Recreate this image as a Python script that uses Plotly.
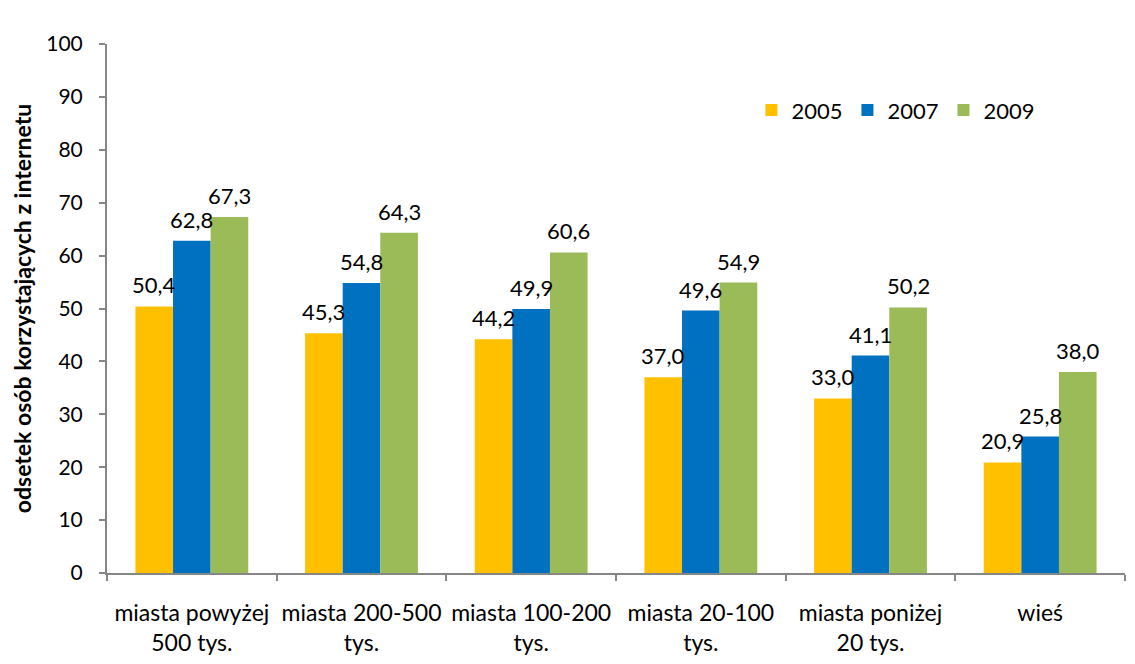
import plotly.graph_objects as go

categories = ["miasta powyżej<br>500 tys.", "miasta 200-500<br>tys.", "miasta 100-200<br>tys.",
              "miasta 20-100<br>tys.", "miasta poniżej<br>20 tys.", "wieś"]
series_names = ["2005", "2007", "2009"]
v2005 = [50.4, 45.3, 44.2, 37.0, 33.0, 20.9]
v2007 = [62.8, 54.8, 49.9, 49.6, 41.1, 25.8]
v2009 = [67.3, 64.3, 60.6, 54.9, 50.2, 38.0]
colors = ["#FFC000", "#0070C0", "#9BBB59"]
y_ticks = [0, 10, 20, 30, 40, 50, 60, 70, 80, 90, 100]

FONT = "Lato, 'Open Sans', sans-serif"
BARGAP = 0.335
PLOT_W = 1127 - 99 - 10
bar_px = PLOT_W / len(categories) * (1 - BARGAP) / 3

fig = go.Figure()
annotations = []
for i, (name, vals, col) in enumerate(zip(series_names, [v2005, v2007, v2009], colors)):
    fig.add_trace(go.Bar(
        x=categories, y=vals, name=name, marker=dict(color=col, line=dict(width=0)),
    ))
    for c, v in zip(categories, vals):
        annotations.append(dict(
            x=c, y=v, xref="x", yref="y", text=f"{v:.1f}".replace(".", ","),
            showarrow=False, xshift=(i - 1) * bar_px, yshift=6, yanchor="bottom",
            font=dict(size=22, color="black", family=FONT),
        ))

fig.update_layout(
    width=1127, height=656,
    margin=dict(l=99, r=10, t=36, b=91),
    paper_bgcolor="white", plot_bgcolor="white",
    barmode="group", bargap=BARGAP, bargroupgap=0,
    font=dict(family=FONT, size=21, color="black"),
    annotations=annotations,
    legend=dict(orientation="h", x=0.633, y=0.875, xanchor="left", yanchor="middle",
                font=dict(size=22, family=FONT), itemwidth=30, traceorder="normal",
                bgcolor="rgba(0,0,0,0)"),
    xaxis=dict(type="category", range=[-0.5, 5.5], showline=True, linecolor="#868686",
               linewidth=2, ticks="outside", tickson="boundaries", tickcolor="#868686",
               ticklen=6, tickwidth=2, tickfont=dict(size=23, family=FONT), showgrid=False,
               automargin=False, ticklabelstandoff=18, tickangle=0),
    yaxis=dict(range=[0, 100], tickvals=y_ticks, showline=True, linecolor="#868686",
               linewidth=2, ticks="outside", tickcolor="#868686", ticklen=6, tickwidth=2,
               showgrid=False, zeroline=False, tickfont=dict(size=21, family=FONT),
               automargin=False, ticklabelstandoff=12,
               title=dict(text="<b>odsetek osób korzystających z internetu</b>",
                          font=dict(size=23, family=FONT), standoff=12)),
)

fig.write_html("out.html")
